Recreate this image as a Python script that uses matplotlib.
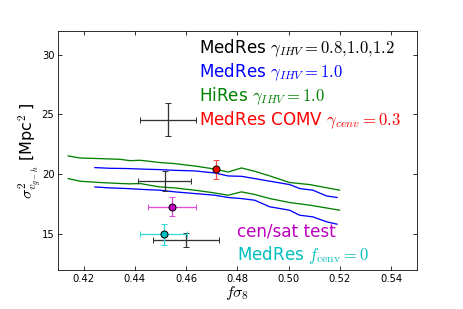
import matplotlib
matplotlib.use("Agg")
from matplotlib import pyplot as plt

# HiRes gamma_IHV=1.0 (two bounding curves)
green_x = [0.414, 0.4186, 0.4264, 0.4342, 0.4381, 0.4420, 0.4459, 0.4498,
           0.4556, 0.4634, 0.4699, 0.4764, 0.4816, 0.4868, 0.4927, 0.5004,
           0.5082, 0.5199]
green_hi = [21.53, 21.36, 21.31, 21.25, 21.14, 21.17, 21.08, 20.98, 20.89,
            20.69, 20.48, 20.19, 20.53, 20.25, 19.86, 19.31, 19.14, 18.67]
green_lo = [19.64, 19.42, 19.31, 19.23, 19.20, 19.23, 19.08, 18.94, 18.86,
            18.67, 18.48, 18.25, 18.53, 18.31, 17.97, 17.64, 17.42, 17.00]

# MedRes gamma_IHV=1.0 (two bounding curves)
blue_x = [0.4244, 0.4303, 0.4368, 0.4433, 0.4498, 0.4556, 0.4634, 0.4712,
          0.4764, 0.4816, 0.4868, 0.4927, 0.5004, 0.5043, 0.5095, 0.5148,
          0.5189]
blue_hi = [20.56, 20.50, 20.48, 20.43, 20.39, 20.33, 20.28, 20.11, 19.86,
           19.83, 19.64, 19.42, 19.14, 18.81, 18.67, 18.19, 18.06]
blue_lo = [18.94, 18.86, 18.81, 18.73, 18.67, 18.53, 18.39, 18.25, 18.06,
           17.97, 17.83, 17.28, 17.00, 16.58, 16.44, 16.03, 15.83]

# single measurements: x, y, xerr, yerr
black_x = [0.4530, 0.4516, 0.4600]
black_y = [24.56, 19.47, 14.50]
black_xerr = [0.0110, 0.0105, 0.0129]
black_yerr = [1.37, 0.83, 0.56]

red_x, red_y, red_yerr = 0.4717, 20.42, 0.79
mag_x, mag_y, mag_xerr, mag_yerr = 0.4546, 17.28, 0.0094, 0.78
cyan_x, cyan_y, cyan_xerr, cyan_yerr = 0.4513, 14.97, 0.0092, 0.86

labels = [
    ("MedRes $\\gamma_{IHV}=0.8{,}1.0{,}1.2$", "k"),
    ("MedRes $\\gamma_{IHV}=1.0$", "b"),
    ("HiRes $\\gamma_{IHV}=1.0$", "g"),
    ("MedRes COMV $\\gamma_{cenv}=0.3$", "r"),
]
labels_low = [
    ("cen/sat test", "m"),
    ("MedRes $f_{\\rm cenv}=0$", "c"),
]
x_ticks = [0.42, 0.44, 0.46, 0.48, 0.50, 0.52, 0.54]
y_ticks = [15, 20, 25, 30]


def plot():
    plt.rcParams.update({'font.size': 10, 'mathtext.fontset': 'cm'})
    fig = plt.figure(figsize=(463/72, 309/72), dpi=72)
    ax = fig.add_axes([58/463, 1 - 270/309, 358.7/463, 239.3/309])

    ax.plot(green_x, green_hi, color="g", lw=1.3)
    ax.plot(green_x, green_lo, color="g", lw=1.3)
    ax.plot(blue_x, blue_hi, color="b", lw=1.3)
    ax.plot(blue_x, blue_lo, color="b", lw=1.3)

    ax.errorbar(black_x, black_y, xerr=black_xerr, yerr=black_yerr, fmt="none",
                ecolor=(0.2, 0.2, 0.2), elinewidth=1.3, capsize=3)
    ax.errorbar([red_x], [red_y], yerr=[red_yerr], fmt="o", color="r",
                mec="k", ms=7, ecolor=(1, 0.3, 0.3), elinewidth=1.3,
                capsize=3)
    ax.errorbar([mag_x], [mag_y], xerr=[mag_xerr], yerr=[mag_yerr], fmt="o",
                color="m", mec="k", ms=7, ecolor=(0.85, 0.3, 0.85),
                elinewidth=1.3, capsize=3)
    ax.errorbar([cyan_x], [cyan_y], xerr=[cyan_xerr], yerr=[cyan_yerr],
                fmt="o", color="c", mec="k", ms=7, ecolor=(0.2, 0.85, 0.85),
                elinewidth=1.3, capsize=3)

    for i, (txt, col) in enumerate(labels):
        ax.text(0.393, 0.928 - i*0.1, txt, color=col, fontsize=16.7,
                transform=ax.transAxes, va="center")
    for i, (txt, col) in enumerate(labels_low):
        ax.text(0.498, 0.16 - i*0.097, txt, color=col, fontsize=16.7,
                transform=ax.transAxes, va="center")

    ax.set_xlim(0.41, 0.55)
    ax.set_ylim(12, 32)
    ax.set_xticks(x_ticks, ["%.2f" % t for t in x_ticks])
    ax.set_yticks(y_ticks)
    ax.tick_params(direction="in", top=True, right=True, length=4)
    ax.set_xlabel("$f\\sigma_8$", fontsize=16, labelpad=1)
    ax.set_ylabel("$\\sigma^2_{v_{g-h}}$ [Mpc$^2$ ]", fontsize=16, labelpad=-1)
    fig.savefig("out.png", dpi=72)


if __name__ == "__main__":
    plot()
